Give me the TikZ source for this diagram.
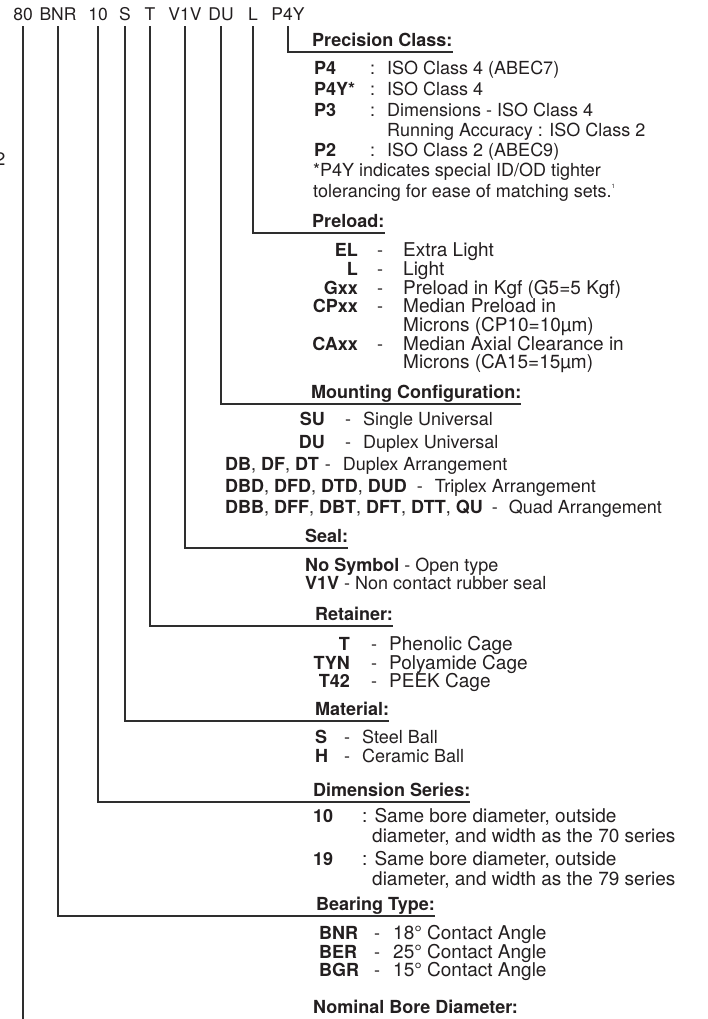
\documentclass[tikz,border=0pt]{standalone}
\usepackage{fontspec}
\setmainfont{TeX Gyre Heros}
\usetikzlibrary{positioning}
\definecolor{ink}{HTML}{231F20}
\definecolor{leadc}{HTML}{2E2E2E}

\begin{document}
\begin{tikzpicture}[x=1pt, y=-1pt,
    every node/.style={text=ink, inner sep=0pt},
    code/.style={font=\fontsize{17.5}{20}\selectfont, anchor=base, inner ysep=5pt, text depth=0pt},
    head/.style={font=\fontsize{18}{20}\selectfont\bfseries, anchor=south west, inner ysep=5pt, text depth=0pt},
    txt/.style={font=\fontsize{18}{20}\selectfont},
    txtl/.style={font=\fontsize{19}{21}\selectfont},
    key/.style={font=\fontsize{18}{20}\selectfont\bfseries},
    lead/.style={draw=leadc, line width=2pt}
]

% ---------------- canvas (708 x 1019 px), white ----------------
\useasboundingbox (0,0) rectangle (708,1019);
\fill[white] (0,0) rectangle (708,1019);

% cut-off fragment at the left edge
\node[txt, anchor=base east] (frag) at (5.5,166) {2};

% ---------------- part number, one node per field ----------------
\foreach \n/\t/\xx in {c80/80/23, cBNR/BNR/58, c10/10/98, cS/S/125, cT/T/150,
                       cV1V/V1V/185, cDU/DU/221, cL/L/253, cP4Y/P4Y/288}
    \node[code] (\n) at (\xx,21) {\t};

% ---------------- headings, sitting on their leader lines ----------------
\node[head] (hPre) at (312,52)  {Precision Class:};
\node[head] (hLoad) at (312,233) {Preload:};
\node[head] (hMnt) at (311,404) {Mounting Configuration:};
\node[head] (hSeal) at (305,548) {Seal:};
\node[head] (hRet) at (315,626) {Retainer:};
\node[head] (hMat) at (315,721) {Material:};
\node[head] (hDim) at (313,802) {Dimension Series:};
\node[head] (hBrg) at (316,916) {Bearing Type:};
\node[head, inner ysep=6.5pt] (hNom) at (313,1019.9) {Nominal Bore Diameter:};

% ---------------- leaders: down from the field, then along the heading ----------------
\draw[lead] (cP4Y.south) |- (hPre.south east);
\draw[lead] (cL.south)   |- (hLoad.south east);
\draw[lead] (cDU.south)  |- (hMnt.south east);
\draw[lead] (cV1V.south) |- (hSeal.south east);
\draw[lead] (cT.south)   |- (hRet.south east);
\draw[lead] (cS.south)   |- (hMat.south east);
\draw[lead] (c10.south)  |- (hDim.south east);
\draw[lead] (cBNR.south) |- (hBrg.south east);
\draw[lead] (c80.south)  |- (hNom.south east);

% ================= precision class =================
\foreach \k/\d/\yy [count=\i] in {P4/ISO Class 4 (ABEC7)/75, P4Y*/ISO Class 4/96,
                                  P3/Dimensions - ISO Class 4/117, P2/ISO Class 2 (ABEC9)/157} {
    \node[key, anchor=base west] (pk\i) at (314,\yy) {\k};
    \node[txt, anchor=base west] (pc\i) at (370,\yy) {:};
    \node[txt, anchor=base west] (pd\i) at (387,\yy) {\d};
}
\node[txt, anchor=base west] (pd5) at (387,137) {Running Accuracy : ISO Class 2};
\node[txt, anchor=base west] (pn1) at (313,177) {*P4Y indicates special ID/OD tighter};
\node[txt, anchor=base west] (pn2) at (313,197)
    {tolerancing for ease of matching sets.\raisebox{9pt}{\fontsize{6}{6}\selectfont 1}};

% ================= preload =================
\foreach \k/\d/\yy [count=\i] in {EL/Extra Light/256, L/Light/275, Gxx/Preload in Kgf (G5=5 Kgf)/294,
                                  CPxx/Median Preload in/312, CAxx/Median Axial Clearance in/350} {
    \node[key, anchor=base east] (lk\i) at (358,\yy) {\k};
    \node[txt, anchor=base] (lh\i) at (380,\yy) {-};
    \node[txtl, anchor=base west] (ld\i) at (403,\yy) {\d};
}
\node[txtl, anchor=base west] (ld6) at (403,331) {Microns (CP10=10µm)};
\node[txtl, anchor=base west] (ld7) at (403,368) {Microns (CA15=15µm)};

% ================= mounting configuration =================
\foreach \k/\d/\yy [count=\i] in {SU/Single Universal/425, DU/Duplex Universal/448} {
    \node[key, anchor=base east] (mk\i) at (325,\yy) {\k};
    \node[txt, anchor=base] (mh\i) at (348,\yy) {-};
    \node[txt, anchor=base west] (md\i) at (363,\yy) {\d};
}
\node[txt, anchor=base west] (md3) at (225,470)
    {\textbf{DB}, \textbf{DF}, \textbf{DT}\hspace{6pt}-\hspace{12pt}Duplex Arrangement};
\node[txt, anchor=base west] (md4) at (225,492)
    {\textbf{DBD}, \textbf{DFD}, \textbf{DTD}, \textbf{DUD}\hspace{10pt}-\hspace{12pt}Triplex Arrangement};
\node[txt, anchor=base west] (md5) at (225,513)
    {\textbf{DBB}, \textbf{DFF}, \textbf{DBT}, \textbf{DFT}, \textbf{DTT}, \textbf{QU}\hspace{9pt}-\hspace{11pt}Quad Arrangement};

% ================= seal =================
\node[txt, anchor=base west] (s1) at (305,571) {\textbf{No Symbol} - Open type};
\node[txt, anchor=base west] (s2) at (305,589) {\textbf{V1V} - Non contact rubber seal};

% ================= retainer =================
\foreach \k/\d/\yy [count=\i] in {T/Phenolic Cage/650, TYN/Polyamide Cage/669, T42/PEEK Cage/687} {
    \node[key, anchor=base east] (rk\i) at (350,\yy) {\k};
    \node[txt, anchor=base] (rh\i) at (374,\yy) {-};
    \node[txtl, anchor=base west] (rd\i) at (389,\yy) {\d};
}

% ================= material =================
\foreach \k/\d/\yy [count=\i] in {S/Steel Ball/743, H/Ceramic Ball/762} {
    \node[key, anchor=base west] (ak\i) at (315,\yy) {\k};
    \node[txt, anchor=base] (ah\i) at (347,\yy) {-};
    \node[txt, anchor=base west] (ad\i) at (362,\yy) {\d};
}

% ================= dimension series =================
\foreach \k/\l/\yy [count=\i] in {10/70/822, 19/79/865} {
    \node[key, anchor=base west] (dk\i) at (313,\yy) {\k};
    \node[txtl, anchor=base west] (dd\i) at (362,\yy) {: Same bore diameter, outside};
    \node[txtl, anchor=base west] (de\i) at (372,\yy+20) {diameter, and width as the \l\ series};
}

% ================= bearing type =================
\foreach \k/\a/\yy [count=\i] in {BNR/18/939, BER/25/958, BGR/15/976} {
    \node[key, anchor=base west] (bk\i) at (319,\yy) {\k};
    \node[txt, anchor=base] (bh\i) at (377,\yy) {-};
    \node[txtl, anchor=base west] (bd\i) at (393,\yy) {\a° Contact Angle};
}

\end{tikzpicture}
\end{document}
